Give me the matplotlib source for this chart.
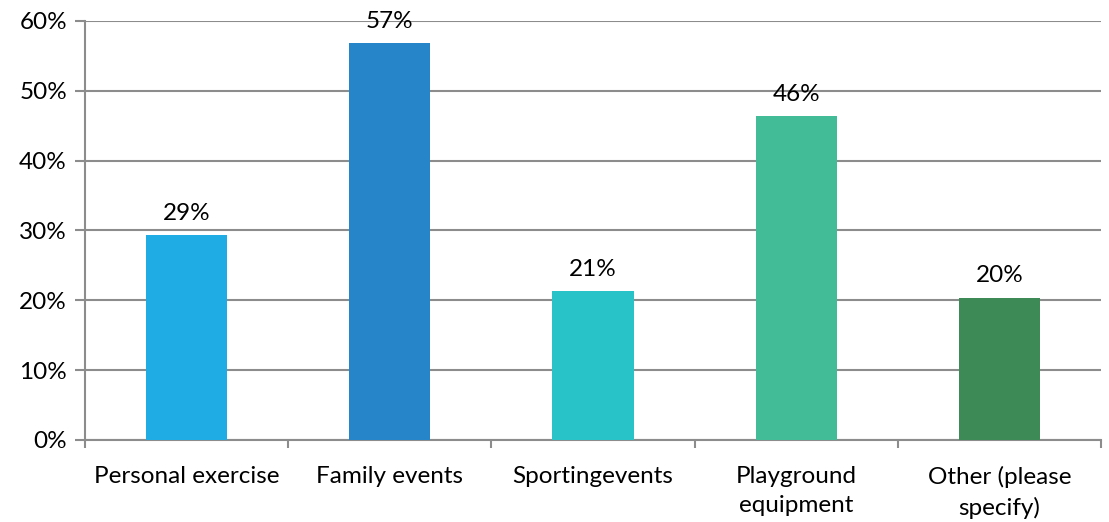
import matplotlib
matplotlib.use("Agg")
import matplotlib.pyplot as plt
from matplotlib.ticker import FuncFormatter, MultipleLocator

categories = ["Personal exercise", "Family events", "Sportingevents", "Playground\nequipment", "Other (please\nspecify)"]
values = [0.293, 0.569, 0.213, 0.464, 0.204]
value_labels = ["29%", "57%", "21%", "46%", "20%"]
colors = ["#1FABE3", "#2684C8", "#27C3C9", "#42BB97", "#3D8A57"]

plt.rcParams['font.family'] = ['Lato', 'DejaVu Sans']
W, H = 1109, 522
fs = 17.5
fig = plt.figure(figsize=(W/100, H/100), dpi=100)
ax = fig.add_axes([85/W, 1-440/H, (1101-85)/W, (440-21)/H])

x = list(range(len(categories)))
bars = ax.bar(x, values, width=0.4, color=colors, zorder=3)
ax.set_xlim(-0.5, len(categories)-0.5)
ax.set_ylim(0, 0.6)
ax.yaxis.set_major_locator(MultipleLocator(0.1))
ax.yaxis.set_major_formatter(FuncFormatter(lambda v, p: f"{v*100:.0f}%"))
ax.grid(axis='y', color='#8C8C8C', linewidth=1.5, zorder=0)
for s in ['top', 'right']:
    ax.spines[s].set_visible(False)
for s in ['left', 'bottom']:
    ax.spines[s].set_color('#8C8C8C')
    ax.spines[s].set_linewidth(1.5)

ax.set_xticks([i - 0.5 for i in range(len(categories)+1)])
ax.set_xticklabels([])
ax.set_xticks(x, minor=True)
ax.set_xticklabels(categories, minor=True, linespacing=1.5)
ax.tick_params(axis='x', which='major', length=6, width=1.5, color='#8C8C8C')
ax.tick_params(axis='x', which='minor', length=0, pad=18.5, labelsize=fs)
ax.tick_params(axis='y', length=7, width=1.5, color='#8C8C8C', labelsize=fs, pad=6)

for b, lab in zip(bars, value_labels):
    ax.annotate(lab, (b.get_x()+b.get_width()/2, b.get_height()), xytext=(0, 8),
                textcoords='offset points', ha='center', va='bottom', fontsize=fs)

fig.savefig("out.png", dpi=100)
